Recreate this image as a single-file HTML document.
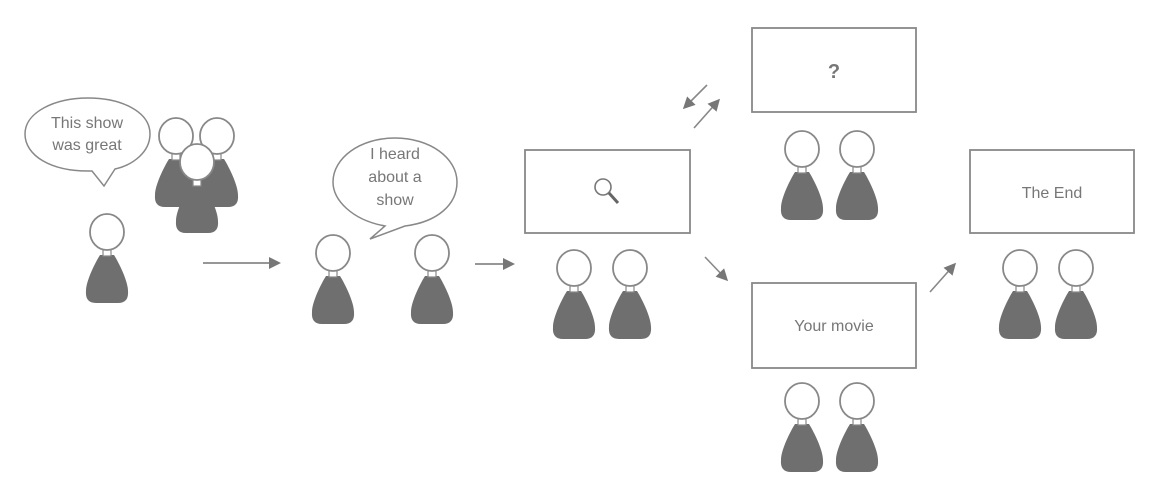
<!DOCTYPE html>
<html><head><meta charset="utf-8"><style>
html,body{margin:0;padding:0;background:#fff;}
svg{display:block;}
text{font-family:"Liberation Sans",sans-serif;fill:#777;}
</style></head><body>
<svg width="1175" height="491" viewBox="0 0 1175 491">
<defs>
<g id="p">
<path d="M-7,22 L7,22 C12,30 21,48 21,58 Q22,70 11,70 L-11,70 Q-22,70 -21,58 C-21,48 -12,30 -7,22 Z" fill="#6f6f6f"/>
<rect x="-4" y="16" width="8" height="7" fill="#fff" stroke="#888" stroke-width="1.2"/>
<ellipse cx="0" cy="-1" rx="17" ry="18" fill="#fff" stroke="#888" stroke-width="1.8"/>
</g>
<marker id="a" markerWidth="12" markerHeight="12" refX="9" refY="6" orient="auto" markerUnits="userSpaceOnUse"><path d="M0,0 L12,6 L0,12 Z" fill="#777"/></marker>
</defs>

<path d="M92,171 C50,172 25,155 25,134 C25,112 55,98 88,98 C122,98 150,112 150,134 C150,152 133,165 115,169 L104,186 Z" fill="#fff" stroke="#888" stroke-width="1.5"/>
<text x="87" y="128" font-size="16" text-anchor="middle">This show</text>
<text x="87" y="150" font-size="16" text-anchor="middle">was great</text>

<use href="#p" x="176" y="137"/>
<use href="#p" x="217" y="137"/>
<use href="#p" x="197" y="163"/>
<use href="#p" x="107" y="233"/>

<line x1="203" y1="263" x2="278" y2="263" stroke="#888" stroke-width="1.8" marker-end="url(#a)"/>

<path d="M385,226 C352,220 333,200 333,182 C333,158 360,138 395,138 C430,138 457,158 457,182 C457,205 437,222 405,226 L370,239 Z" fill="#fff" stroke="#888" stroke-width="1.5"/>
<text x="395" y="159" font-size="16" text-anchor="middle">I heard</text>
<text x="395" y="182" font-size="16" text-anchor="middle">about a</text>
<text x="395" y="205" font-size="16" text-anchor="middle">show</text>

<use href="#p" x="333" y="254"/>
<use href="#p" x="432" y="254"/>

<line x1="475" y1="264" x2="512" y2="264" stroke="#888" stroke-width="1.8" marker-end="url(#a)"/>

<rect x="525" y="150" width="165" height="83" fill="#fff" stroke="#888" stroke-width="1.8"/>
<circle cx="603" cy="187" r="8" fill="none" stroke="#777" stroke-width="1.6"/>
<line x1="609" y1="193" x2="618" y2="203" stroke="#666" stroke-width="3"/>
<use href="#p" x="574" y="269"/>
<use href="#p" x="630" y="269"/>

<line x1="707" y1="85" x2="685" y2="107" stroke="#888" stroke-width="1.6" marker-end="url(#a)"/>
<line x1="694" y1="128" x2="718" y2="101" stroke="#888" stroke-width="1.6" marker-end="url(#a)"/>
<line x1="705" y1="257" x2="726" y2="279" stroke="#888" stroke-width="1.6" marker-end="url(#a)"/>

<rect x="752" y="28" width="164" height="84" fill="#fff" stroke="#888" stroke-width="1.8"/>
<text x="834" y="78" font-size="20" text-anchor="middle" font-weight="bold">?</text>
<use href="#p" x="802" y="150"/>
<use href="#p" x="857" y="150"/>

<rect x="752" y="283" width="164" height="85" fill="#fff" stroke="#888" stroke-width="1.8"/>
<text x="834" y="331" font-size="16" text-anchor="middle">Your movie</text>
<use href="#p" x="802" y="402"/>
<use href="#p" x="857" y="402"/>

<line x1="930" y1="292" x2="954" y2="265" stroke="#888" stroke-width="1.6" marker-end="url(#a)"/>

<rect x="970" y="150" width="164" height="83" fill="#fff" stroke="#888" stroke-width="1.8"/>
<text x="1052" y="198" font-size="16" text-anchor="middle">The End</text>
<use href="#p" x="1020" y="269"/>
<use href="#p" x="1076" y="269"/>
</svg>
</body></html>
